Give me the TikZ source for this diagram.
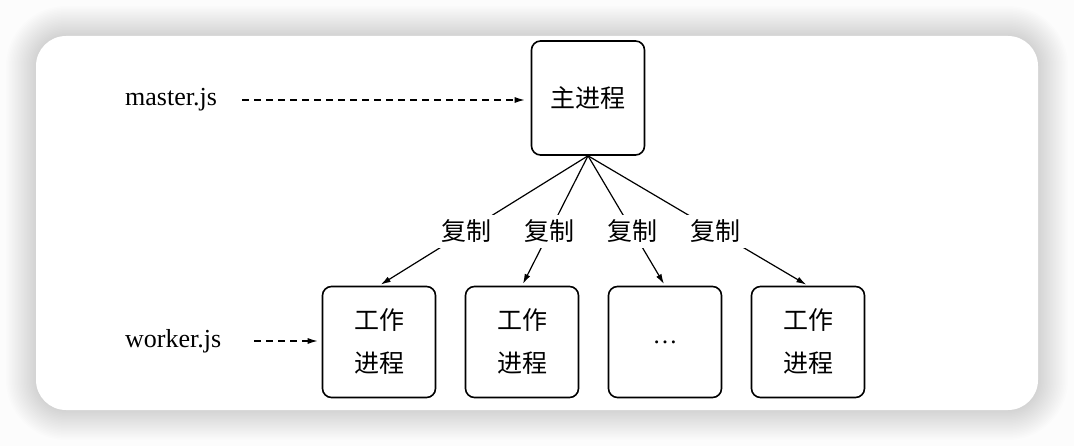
\documentclass[tikz,border=0pt]{standalone}
\usepackage{fontspec}
\setmainfont{Liberation Serif}
\newfontfamily\cjk{Noto Sans CJK SC}
\usetikzlibrary{positioning,arrows.meta}

\begin{document}
\begin{tikzpicture}[%
    x=1pt,
    y=-1pt,
    >={Latex[length=10pt,width=6pt]},
    node distance=28.4pt,
    proc/.style={%
      rectangle,
      rounded corners=9pt,
      draw,
      line width=1.6pt,
      minimum width=113pt,
      minimum height=111pt,
      align=center,
      font=\cjk\fontsize{25}{43}\selectfont
    },
    copylabel/.style={%
      fill=white,
      inner sep=5pt,
      font=\cjk\fontsize{25}{25}\selectfont
    },
    script/.style={%
      anchor=west,
      inner sep=0pt,
      font=\fontsize{26}{26}\selectfont
    },
    load/.style={%
      ->,
      line width=1.2pt,
      dash pattern=on 7pt off 5pt
    }
  ]
    % page, soft shadow and card
    \fill[black!1] (0,0) rectangle (1074,446);
    \foreach \d in {1.5,3,...,30}
      \fill[black, fill opacity=0.007, rounded corners=30pt+\d]
        (36-\d,36-\d) rectangle (1038+\d,410+\d);
    \fill[white, rounded corners=30pt] (36,36) rectangle (1038,410);

    \node[proc, minimum height=114pt] (main) at (588,98) {主进程};
    \node[proc] (w1) at (379,342)        {工作\\进程};
    \node[proc] (w2) [right=of w1]       {工作\\进程};
    \node[proc] (w3) [right=of w2]       {\textrm{\ldots}};
    \node[proc] (w4) [right=of w3]       {工作\\进程};

    \node[script] (mjs) at (125,100) {master.js};
    \node[script] (wjs) at (125,341) {worker.js};

    \draw[load, shorten <=25pt, shorten >=6pt] (mjs.east) -- (mjs.east -| main.west);
    \draw[load, shorten <=33pt, shorten >=4pt] (wjs.east) -- (wjs.east -| w1.west);

    \path[->, line width=1.2pt, shorten >=2pt]
          (main.south) edge node[copylabel, pos=0.58] {复制} (w1.north)
          (main.south) edge node[copylabel, pos=0.58] {复制} (w2.north)
          (main.south) edge node[copylabel, pos=0.58] {复制} (w3.north)
          (main.south) edge node[copylabel, pos=0.58] {复制} (w4.north)
          ;
\end{tikzpicture}
\end{document}
